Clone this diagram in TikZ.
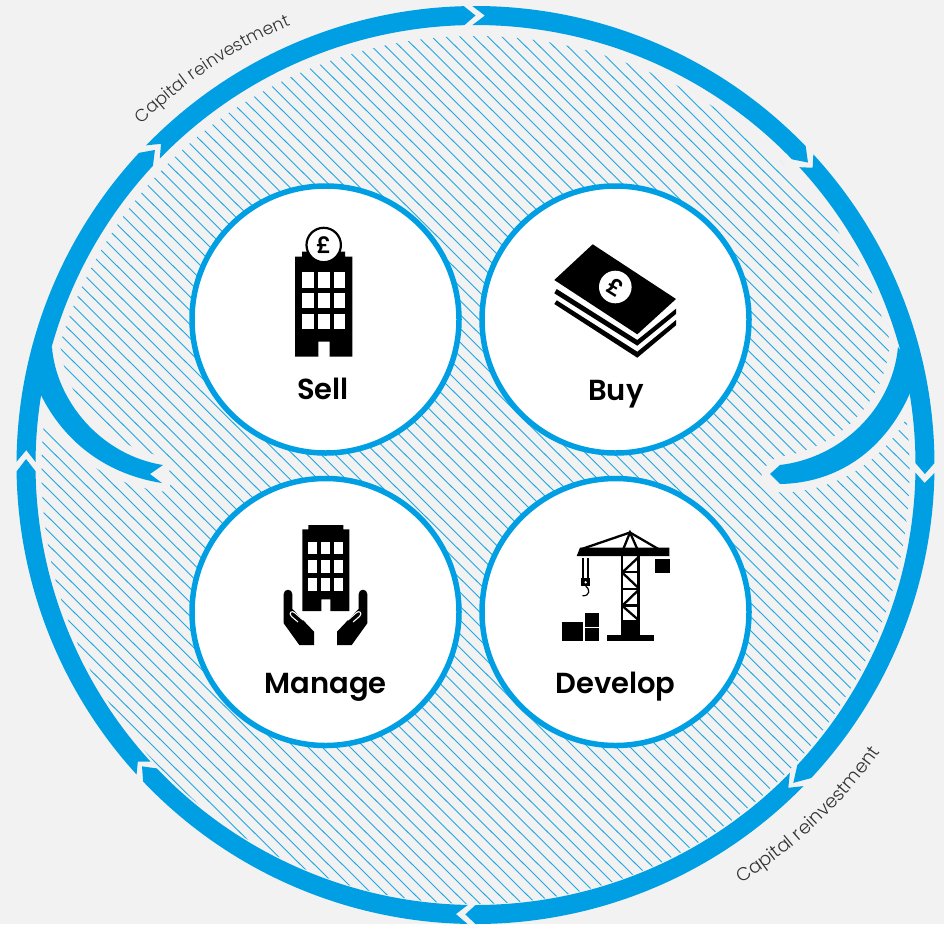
\documentclass[tikz,border=0pt]{standalone}
\usepackage{fontspec}
\setmainfont{Poppins}[BoldFont={Poppins SemiBold}]
\newfontfamily\capfont{Poppins Light}
\usetikzlibrary{decorations.text}
\definecolor{ringblue}{HTML}{009FE3}
\definecolor{hatchblue}{HTML}{1FA8E2}
\definecolor{pagebg}{HTML}{F2F2F2}
\definecolor{captext}{HTML}{333333}
% ring segment: tail angle, notch angle, end angle, tip angle
\newcommand{\ringseg}[4]{%
  \fill[ringblue] (#1:459) arc[start angle=#1,end angle=#3,radius=459]
    -- (#4:449.5) -- (#3:440) arc[start angle=#3,end angle=#1,radius=440]
    -- (#2:449.5) -- cycle;}
\newcommand{\leftbranch}{(52,347) .. controls (56,400) and (100,455) .. (163,465) -- (150,474) -- (162,483) .. controls (110,475) and (65,445) .. (40,393) -- (36,370) -- cycle}
\newcommand{\rightbranch}{(898,347) .. controls (892,410) and (840,458) .. (780,465) -- (770,474) -- (780,484) .. controls (838,483) and (885,450) .. (910,393) -- (915,370) -- cycle}
\newcommand{\hand}{%
  \fill[black] (283.7,594) arc[start angle=180,end angle=360,radius=4.3] -- (292.3,609) .. controls (294,610) and (295,611) .. (296,612.7) -- (314,631.7) -- (314,645) -- (299.3,645) -- (283.7,623.3) -- cycle;
  \draw[white,line width=1.1] (298,622) -- (291.5,616.5) .. controls (288,612.5) and (292,610) .. (295,613) -- (303,620);}
\tikzset{
  stage/.style={circle,draw=ringblue,line width=5.5,fill=white,minimum size=267,inner sep=0},
  stagelabel/.style={font=\bfseries\fontsize{29}{32}\selectfont,text=black,inner sep=0,anchor=base},
  capline/.style={decorate,decoration={text along path,text align=left,text={|\capfont\fontsize{#1}{21}\selectfont\color{captext}|Capital reinvestment}}},
  cranebar/.style={draw=black,line width=2.3},
  halo/.style={fill=pagebg,draw=pagebg,line width=17,line join=round},
}
\begin{document}
\begin{tikzpicture}[x=1pt,y=-1pt]
\useasboundingbox (0,0) rectangle (944,924);
\fill[pagebg] (0,0) rectangle (944,924);
% hatching
\begin{scope}
  \clip (475.5,470) circle[radius=434];
  \foreach \i in {-32,...,103}{
    \pgfmathsetmacro\xa{-487+14*\i}
    \pgfmathsetmacro\xb{444.37+14*\i}
    \draw[hatchblue,line width=0.9] (\xa,0) -- (\xb,924);
  }
\end{scope}
% clear zone round the branches
\path[halo] \leftbranch;
\path[halo] \rightbranch;
% ring
\begin{scope}[shift={(475.5,465)}]
  \ringseg{269.6}{271.2}{316}{317.7}
  \ringseg{317.4}{318.6}{359.75}{361.15}
  \ringseg{1}{2.3}{43}{45}
  \ringseg{44.4}{45.9}{90}{91.3}
  \ringseg{91}{92.5}{136.4}{137.9}
  \ringseg{137.6}{138.7}{179.2}{180.76}
  \ringseg{180.4}{181.9}{222.85}{224.5}
  \ringseg{224.15}{225.6}{268.55}{270}
  \path[capline=17.3] (225.6:477) arc[start angle=225.6,end angle=262,radius=477];
  \path[capline=18.5] (57.6:496) arc[start angle=57.6,end angle=22,radius=496];
\end{scope}
\fill[ringblue] \leftbranch;
\fill[ringblue] \rightbranch;
% stages
\node[stage] (sell) at (325.5,319.5) {};
\node[stage] (buy) at (615.5,319.5) {};
\node[stage] (manage) at (325.5,612) {};
\node[stage] (develop) at (615.5,612) {};
\node[stagelabel] (selltxt) at (323,399) {Sell};
\node[stagelabel] (buytxt) at (616,400) {Buy};
\node[stagelabel] (managetxt) at (325.5,693) {Manage};
\node[stagelabel] (developtxt) at (615.5,693) {Develop};
% sell icon
\fill[black] (295,256.7) -- (302,256.7) -- (302,251.7) -- (345,251.7) -- (345,256.7) -- (352.3,256.7) -- (352.3,356.7) -- (329.7,356.7) -- (329.7,341.7) -- (318.3,341.7) -- (318.3,356.7) -- (295,356.7) -- cycle;
\foreach \wy/\wh in {271.7/16,292.7/15.6,313.7/15.3}
  \foreach \wx in {302.3,318.3,334}
    \fill[white] (\wx,\wy) rectangle ++(11.4,\wh);
\node[circle,draw=black,fill=white,line width=2.2,minimum size=34.4,inner sep=0,font=\bfseries\fontsize{23}{23}\selectfont] (sellcoin) at (323.7,245) {£};
% buy icon
\fill[black] (592.7,244.3) -- (676,299) -- (637.3,334.3) -- (554.3,280) -- cycle;
\fill[black] (556.7,289) -- (637.3,340) -- (676,308.7) -- (676,314) -- (637.3,345.7) -- (554.3,293.3) -- cycle;
\fill[black] (556.7,300.3) -- (637.3,351.7) -- (676,320) -- (676,325.3) -- (637.3,357.7) -- (554.3,304) -- cycle;
\node[circle,fill=white,minimum size=32.6,inner sep=0] (buycoin) at (615.3,287) {};
\node[rotate=-32,inner sep=0,font=\bfseries\fontsize{23}{23}\selectfont] (buypound) at (615.3,287) {£};
% manage icon
\fill[black] (302.3,529.3) -- (308.3,529.3) -- (308.3,525) -- (343.3,525) -- (343.3,529.3) -- (349.3,529.3) -- (349.3,611) -- (330.3,611) -- (330.3,599.3) -- (321.3,599.3) -- (321.3,611) -- (302.3,611) -- cycle;
\foreach \wy/\wh in {541.7/12.6,560/13.3,578.3/12.7}
  \foreach \wx in {308.3,321.3,334.3}
    \fill[white] (\wx,\wy) rectangle ++(9,\wh);
\hand
\begin{scope}[shift={(651,0)},xscale=-1]
  \hand
\end{scope}
% develop icon
\fill[black] (580,547.7) -- (669.3,547.7) -- (669.3,556) -- (576.7,556) -- cycle;
\draw[cranebar] (581.7,549) -- (630,532.5) -- (658.3,549);
\draw[cranebar] (623.3,549) -- (630,532.5) -- (637.3,549);
\fill[black] (620.7,556) rectangle (623.3,620);
\fill[black] (637.3,556) rectangle (640,620);
\fill[black] (620.7,620) rectangle (640,635);
\fill[black] (606.7,635) rectangle (654,640.7);
\fill[black] (621,571) rectangle (640,573.3);
\fill[black] (621,587.7) rectangle (640,590);
\fill[black] (621,604.3) rectangle (640,606.7);
\draw[cranebar] (639,556.7) -- (623,571.7) (623,573.3) -- (638.5,588) (639,589.5) -- (623,605) (623,606.5) -- (638.5,620);
\fill[black] (655,559) rectangle (670,572.7);
\fill[black] (582.3,558.3) rectangle (584,578.3);
\fill[black] (586.7,558.3) rectangle (588.7,578.3);
\fill[black] (581,578.3) rectangle (590,586);
\fill[white] (585.7,582.3) circle[radius=1.3];
\draw[black,line width=1.2] (585.7,586) .. controls (590,589) and (590.5,596) .. (582.5,595.8);
\fill[black] (562,622) rectangle (583.3,640.7);
\fill[black] (585,613) rectangle (599,626.7);
\fill[black] (585,628.3) rectangle (599,640.7);
\end{tikzpicture}
\end{document}
